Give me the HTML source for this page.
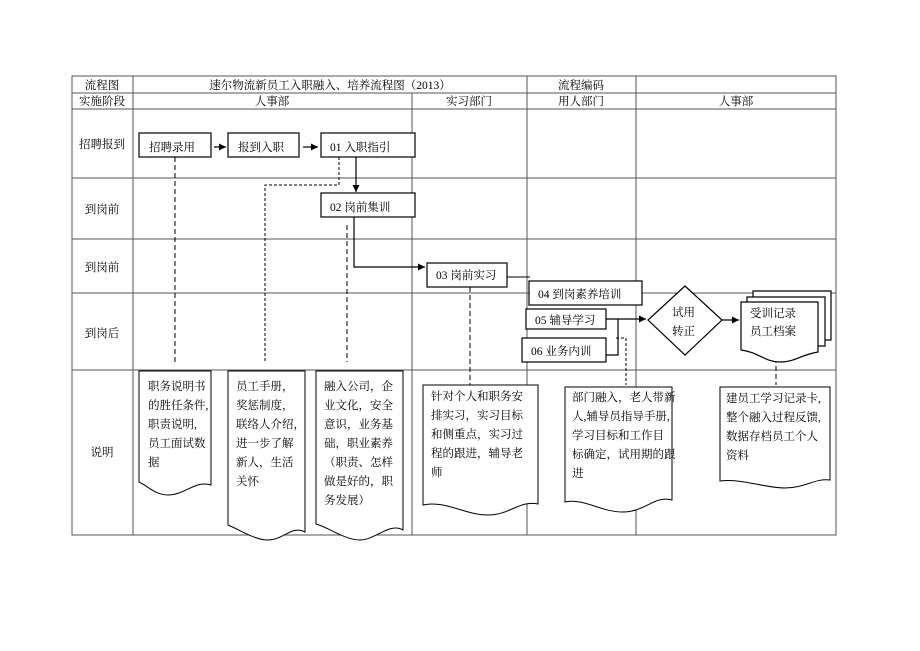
<!DOCTYPE html>
<html><head><meta charset="utf-8"><style>
body{margin:0;background:#fff}
svg{display:block}
text{font-family:"Liberation Serif","Noto Serif CJK SC",serif;font-size:11.5px;fill:#000}
</style></head><body>
<svg width="920" height="651" viewBox="0 0 920 651" xmlns="http://www.w3.org/2000/svg">
<defs><marker id="a" markerWidth="8" markerHeight="8" refX="7" refY="4" orient="auto" markerUnits="userSpaceOnUse"><path d="M0,0.5 L7,4 L0,7.5z" fill="#000"/></marker></defs>
<g stroke="#555" stroke-width="1" fill="none">
<rect x="72" y="76" width="764" height="459"/>
<line x1="72" y1="93" x2="836" y2="93"/>
<line x1="72" y1="109" x2="836" y2="109"/>
<line x1="72" y1="178" x2="836" y2="178"/>
<line x1="72" y1="239" x2="836" y2="239"/>
<line x1="72" y1="293" x2="836" y2="293"/>
<line x1="72" y1="370" x2="836" y2="370"/>
<line x1="133" y1="76" x2="133" y2="535"/>
<line x1="412" y1="93" x2="412" y2="535"/>
<line x1="527" y1="76" x2="527" y2="535"/>
<line x1="636" y1="76" x2="636" y2="535"/>
</g>
<g text-anchor="middle">
<text x="102" y="89">流程图</text>
<text x="330" y="89">速尔物流新员工入职融入、培养流程图（2013）</text>
<text x="581" y="89">流程编码</text>
<text x="102" y="105">实施阶段</text>
<text x="272" y="105">人事部</text>
<text x="469" y="105">实习部门</text>
<text x="581" y="105">用人部门</text>
<text x="736" y="105">人事部</text>
<text x="102" y="148">招聘报到</text>
<text x="102" y="213">到岗前</text>
<text x="102" y="271">到岗前</text>
<text x="102" y="337">到岗后</text>
<text x="102" y="456">说明</text>
</g>
<g stroke="#000" stroke-width="1" fill="none" stroke-dasharray="5,3">
<line x1="175" y1="157" x2="175" y2="362"/>
<polyline points="339,157 339,185 265,185 265,362" stroke-dasharray="3,2"/>
<line x1="347" y1="225" x2="347" y2="362"/>
<line x1="470" y1="287" x2="470" y2="385"/>
<polyline points="616,338 626,338 626,385" stroke-dasharray="3,2"/>
<line x1="776" y1="350" x2="776" y2="385"/>
</g>
<g stroke="#000" stroke-width="1.2" fill="#fff">
<rect x="139" y="133" width="72" height="24"/>
<rect x="228" y="133" width="71" height="24"/>
<rect x="321" y="133" width="94" height="24"/>
<rect x="321" y="193" width="94" height="24"/>
<rect x="427" y="263" width="80" height="24"/>
</g>
<g stroke="#000" stroke-width="1.2" fill="none">
<line x1="214" y1="147" x2="226" y2="147" marker-end="url(#a)"/>
<line x1="303" y1="147" x2="318" y2="147" marker-end="url(#a)"/>
<line x1="356" y1="157" x2="356" y2="192" marker-end="url(#a)"/>
<polyline points="354,217 354,267 425,267" marker-end="url(#a)"/>
<line x1="507" y1="277" x2="530" y2="277" stroke-width="1"/>
</g>
<g stroke="#000" stroke-width="1.2" fill="#fff">
<rect x="529" y="281" width="113" height="24"/>
<rect x="526" y="309" width="80" height="20"/>
<rect x="522" y="338" width="84" height="24"/>
</g>
<g stroke="#000" stroke-width="1.2" fill="none">
<polyline points="606,319 646,319" marker-end="url(#a)"/>
<polyline points="606,355 618,355 618,319"/>
<polygon points="685,286 722,320 685,355 648,320" fill="#fff"/>
<line x1="722" y1="320" x2="739" y2="320" marker-end="url(#a)"/>
<path d="M753,291 H831 V340 H753 Z" fill="#fff"/>
<path d="M747,297 H825 V346 H747 Z" fill="#fff"/>
<path d="M741,302 H818 V352 C800,355 795,362 780,362 C765,362 758,352 741,350 Z" fill="#fff"/>
</g>
<g>
<text x="149" y="151">招聘录用</text>
<text x="238" y="151">报到入职</text>
<text x="330" y="151">01 入职指引</text>
<text x="330" y="211">02 岗前集训</text>
<text x="436" y="279">03 岗前实习</text>
<text x="538" y="298">04 到岗素养培训</text>
<text x="535" y="324">05 辅导学习</text>
<text x="531" y="355">06 业务内训</text>
<text x="672" y="316">试用</text>
<text x="672" y="335">转正</text>
<text x="750" y="317">受训记录</text>
<text x="750" y="335">员工档案</text>
</g>
<g stroke="#000" stroke-width="1" fill="#fff">
<path d="M139,371 H211 V485 C195,480 185,495 168,495 C155,495 148,486 139,482 Z"/>
<path d="M228,371 H305 V532 C292,525 283,540 268,540 C255,540 240,530 228,525 Z"/>
<path d="M316,371 H403 V530 C390,522 375,540 360,540 C345,540 330,528 316,524 Z"/>
<path d="M423,385 H538 V504 C520,500 510,515 488,515 C465,515 445,500 423,505 Z"/>
<path d="M565,387 H672 V500 C655,495 645,512 623,512 C600,512 585,498 565,502 Z"/>
<path d="M720,387 H830 V480 C815,478 805,488 785,488 C765,488 740,478 720,481 Z"/>
</g>
<g style="font-size:10.5px">
<text x="148" y="390">职务说明书</text><text x="148" y="409">的胜任条件,</text><text x="148" y="428">职责说明,</text><text x="148" y="447">员工面试数</text><text x="148" y="466">据</text>
<text x="236" y="390">员工手册，</text><text x="236" y="409">奖惩制度，</text><text x="236" y="428">联络人介绍，</text><text x="236" y="447">进一步了解</text><text x="236" y="466">新人，生活</text><text x="236" y="485">关怀</text>
<text x="324" y="390">融入公司，企</text><text x="324" y="409">业文化，安全</text><text x="324" y="428">意识，业务基</text><text x="324" y="447">础，职业素养</text><text x="324" y="466">（职责、怎样</text><text x="324" y="485">做是好的，职</text><text x="324" y="504">务发展）</text>
<text x="431" y="400">针对个人和职务安</text><text x="431" y="419">排实习，实习目标</text><text x="431" y="438">和侧重点，实习过</text><text x="431" y="457">程的跟进，辅导老</text><text x="431" y="476">师</text>
<text x="572" y="401">部门融入，老人带新</text><text x="572" y="420">人,辅导员指导手册,</text><text x="572" y="439">学习目标和工作目</text><text x="572" y="458">标确定，试用期的跟</text><text x="572" y="477">进</text>
<text x="726" y="402">建员工学习记录卡,</text><text x="726" y="421">整个融入过程反馈,</text><text x="726" y="440">数据存档员工个人</text><text x="726" y="459">资料</text>
</g>
</svg>
</body></html>
